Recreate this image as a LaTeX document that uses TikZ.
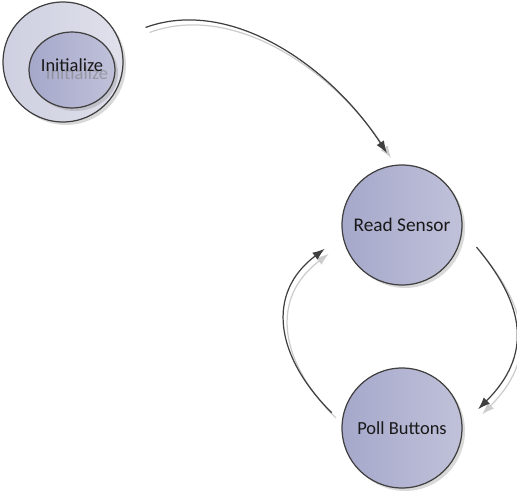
\documentclass[tikz,border=0pt]{standalone}
\usepackage{fontspec}
\setmainfont{Carlito}
\usetikzlibrary{arrows.meta,shadows,shapes.geometric}
\definecolor{lavA}{RGB}{166,168,203}
\definecolor{lavB}{RGB}{192,193,217}
\definecolor{ringA}{RGB}{206,207,224}
\definecolor{ringB}{RGB}{224,225,235}
\tikzset{
  state/.style={circle, draw=black!75, line width=0.7pt, minimum size=2.4cm, inner sep=0pt,
    left color=lavA, right color=lavB, text=black!90,
    drop shadow={opacity=0.3, shadow xshift=0.06cm, shadow yshift=-0.06cm},
    font=\fontsize{10.5}{12}\selectfont},
  ring/.style={state, minimum size=2.4cm, left color=ringA, right color=ringB},
  statetext/.style={text=black!90, font=\fontsize{10.5}{12}\selectfont},
  ghosttext/.style={text=black!50, text opacity=0.6, font=\fontsize{10.5}{12}\selectfont},
  flow/.style={draw=black!75, line width=0.7pt, -{Latex[length=7pt,width=5pt]}},
  flowshadow/.style={flow, draw=black!20, transform canvas={xshift=0.08cm, yshift=-0.1cm}}
}

\begin{document}
\begin{tikzpicture}[x=0.02cm, y=-0.02cm]
	%%%%% START %%%%%
	\useasboundingbox (0,0) rectangle (517,493);
	
	\node[ring] (initring) at (63,62) {};
	\node[state, ellipse, minimum width=1.72cm, minimum height=1.52cm] (init) at (72,70) {};
	\node[ghosttext] (initghost) at (77,73) {Initialize};
	\node[statetext] (initlabel) at (72,65) {Initialize};
	
	\node[state] (read) at (402,225) {\fontsize{11}{13}\selectfont Read Sensor};
	\node[state] (poll) at (402,428) {Poll Buttons};
	
	% shadows of the arrows
	\draw[flowshadow, shorten <=29*0.02cm, shorten >=14*0.02cm] (initring.24) to[out=20, in=123] (read.97);
	\draw[flowshadow, shorten <=22*0.02cm, shorten >=22*0.02cm] (read.-5) to[out=-50, in=45, looseness=1.3] (poll.3);
	\draw[flowshadow, shorten <=14*0.02cm, shorten >=22*0.02cm] (poll.175) to[out=135, in=-143, looseness=1.3] (read.190);
	
	\draw[flow, shorten <=29*0.02cm, shorten >=14*0.02cm] (initring.24) to[out=20, in=123] (read.97);
	\draw[flow, shorten <=22*0.02cm, shorten >=22*0.02cm] (read.-5) to[out=-50, in=45, looseness=1.3] (poll.3);
	\draw[flow, shorten <=14*0.02cm, shorten >=22*0.02cm] (poll.175) to[out=135, in=-143, looseness=1.3] (read.190);
	
	%%%%% END %%%%%
\end{tikzpicture}
\end{document}
